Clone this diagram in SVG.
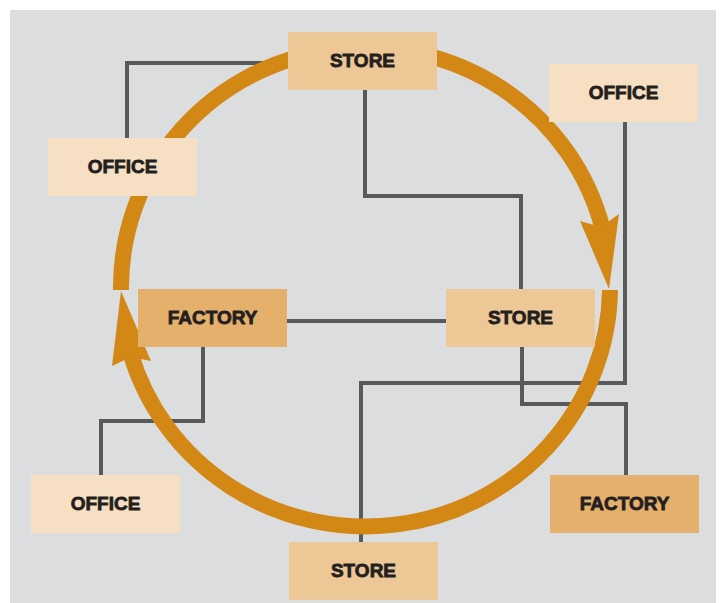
<svg xmlns="http://www.w3.org/2000/svg" width="720" height="603" viewBox="0 0 720 603">
<style>
.bg{fill:#dcdddf}
.ln{fill:none;stroke:#58595b;stroke-width:4;stroke-linejoin:miter}
.ring{fill:none;stroke:#d38714;stroke-width:16;stroke-linecap:butt}
.head{fill:#d38714}
.office{fill:#f6dfc2}
.store{fill:#edc795}
.factory{fill:#e5af6c}
.lbl{font-family:"Liberation Sans",Arial,sans-serif;font-weight:bold;font-size:19px;fill:#231f20;stroke:#231f20;stroke-width:0.8;text-anchor:middle}
</style>
<rect x="0" y="0" width="720" height="603" fill="#ffffff"/>
<rect class="bg" x="10" y="10" width="706" height="593"/>
<g id="connectors">
<polyline class="ln" points="289,63 127,63 127,138"/>
<polyline class="ln" points="365,90 365,196 521,196 521,289"/>
<polyline class="ln" points="287,321 446,321"/>
<polyline class="ln" points="203,347 203,421 101,421 101,475"/>
<polyline class="ln" points="625,122 625,383 361,383 361,542"/>
<polyline class="ln" points="522,347 522,404 626,404 626,475"/>
</g>
<g id="cycle">
<path class="ring" d="M121,290 A244.5,239.5 0 0 1 602.4,228"/>
<polygon class="head" points="580,221 601,227 619,214 609,289"/>
<path class="ring" d="M610,290 A244.5,239.5 0 0 1 130.2,352"/>
<polygon class="head" points="112,366 131,357 151,361 121,291"/>
</g>
<g id="store-top"><rect class="store" x="288" y="32" width="149" height="58"/><text class="lbl" x="362.5" y="66.5">STORE</text></g>
<g id="office-tr"><rect class="office" x="549" y="64" width="149" height="58"/><text class="lbl" x="623.5" y="98.5">OFFICE</text></g>
<g id="office-l"><rect class="office" x="48" y="138" width="149" height="58"/><text class="lbl" x="122.5" y="172.5">OFFICE</text></g>
<g id="factory-mid"><rect class="factory" x="138" y="289" width="149" height="58"/><text class="lbl" x="212.5" y="323.5">FACTORY</text></g>
<g id="store-mid"><rect class="store" x="446" y="289" width="149" height="58"/><text class="lbl" x="520.5" y="323.5">STORE</text></g>
<g id="office-bl"><rect class="office" x="31" y="475" width="149" height="58"/><text class="lbl" x="105.5" y="509.5">OFFICE</text></g>
<g id="factory-br"><rect class="factory" x="550" y="475" width="149" height="58"/><text class="lbl" x="624.5" y="509.5">FACTORY</text></g>
<g id="store-bottom"><rect class="store" x="289" y="542" width="149" height="58"/><text class="lbl" x="363.5" y="576.5">STORE</text></g>
</svg>
